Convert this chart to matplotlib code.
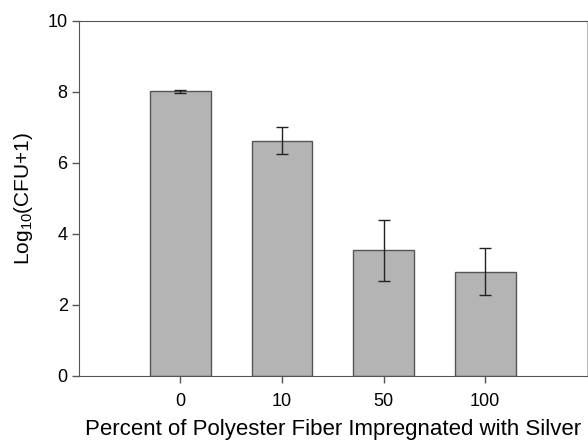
import numpy as np
import matplotlib.pyplot as plt

plt.rcParams['font.family'] = ['Liberation Sans', 'DejaVu Sans']
plt.rcParams['mathtext.default'] = 'regular'

categories = ['0', '10', '50', '100']
means = [8.02, 6.62, 3.54, 2.94]
errors = [0.05, 0.38, 0.86, 0.66]

fig = plt.figure(figsize=(5.88, 4.4), dpi=100)
ax = fig.add_axes([0.134, 0.1455, 0.864, 0.8068])

x = np.arange(len(categories))
ax.bar(x, means, width=0.6, color='#b4b4b4', edgecolor='#555555', linewidth=1.0,
       yerr=errors, capsize=4, error_kw=dict(ecolor='#222222', elinewidth=1.0, capthick=1.0))

ax.set_xlim(-1, 4)
ax.set_ylim(0, 10)
ax.set_xticks(x)
ax.set_xticklabels(categories)
ax.set_yticks([0, 2, 4, 6, 8, 10])
ax.tick_params(labelsize=13, color='#555555', length=5, width=1, pad=3)
ax.tick_params(axis='x', pad=7)
for s in ['left', 'bottom', 'top']:
    ax.spines[s].set_color('#555555')
ax.spines['right'].set_color('#bbbbbb')

ax.set_ylabel('Log$_{10}$(CFU+1)', fontsize=15, labelpad=9)
ax.set_xlabel('Percent of Polyester Fiber Impregnated with Silver', fontsize=16, labelpad=7)

fig.savefig('out.png', dpi=100)
